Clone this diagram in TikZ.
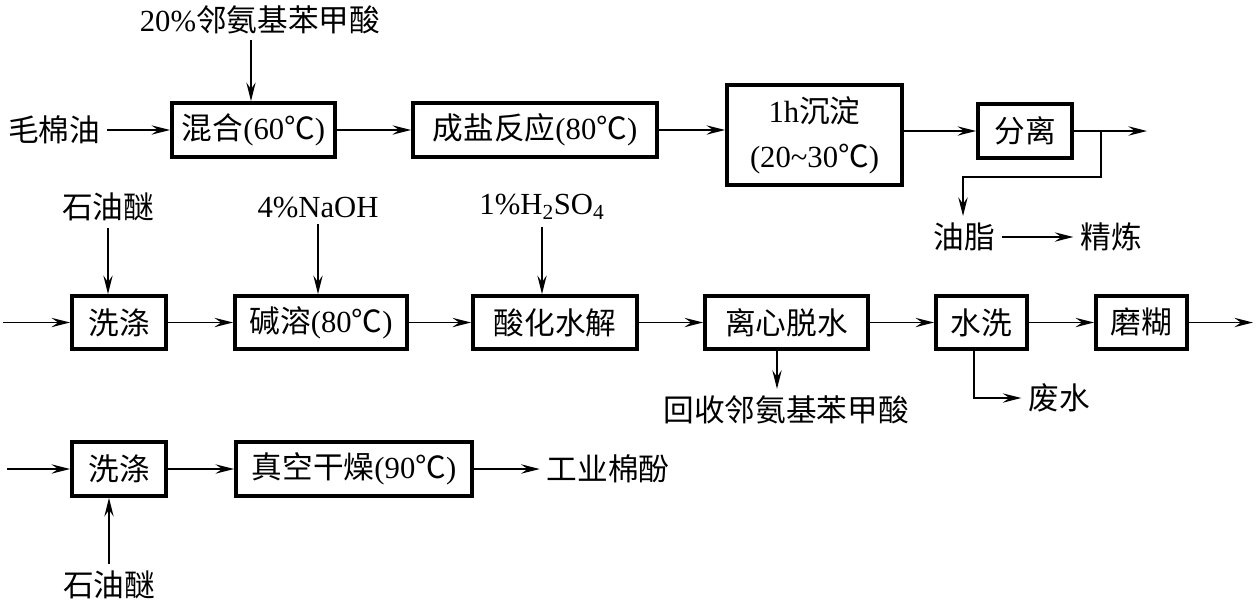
\documentclass[tikz,border=0pt]{standalone}
\usepackage{fontspec}
\setmainfont{Liberation Serif}
\newfontfamily\cjk{Noto Sans CJK SC}
\newcommand{\zh}[1]{{\cjk #1}}
\usetikzlibrary{arrows.meta}
\begin{document}
\begin{tikzpicture}[x=0.75pt,y=-0.75pt,
  font=\fontsize{23pt}{27pt}\selectfont,
  box/.style={draw, line width=2.8pt, inner sep=0pt, align=center},
  lbl/.style={inner sep=5pt, align=center},
  arr/.style={line width=1.4pt, -{Stealth[length=14pt,width=7pt,inset=5pt]}},
  ln/.style={line width=1.4pt}]
\useasboundingbox (0,0) rectangle (1256,601);

% ---- row 1 ----
\node[box, minimum width=122.25pt, minimum height=40.5pt] (B1) at (253.5,130) {\zh{混合}(60\zh{℃})};
\node[box, minimum width=183pt, minimum height=40.5pt] (B2) at (535,130) {\zh{成盐反应}(80\zh{℃})};
\node[box, minimum width=131.25pt, minimum height=75pt] (B3) at (814.5,135) {1h\zh{沉淀}\\[7pt](20\textasciitilde30\zh{℃})};
\node[box, minimum width=70.5pt, minimum height=40.5pt] (B4) at (1025,131) {\zh{分离}};

\node[lbl] (T1) at (260,20) {20\%\zh{邻氨基苯甲酸}};
\node[lbl] (M) at (54,130) {\zh{毛棉油}};
\node[lbl] (Y) at (964,237) {\zh{油脂}};
\node[lbl] (J) at (1111,237) {\zh{精炼}};

\coordinate (a1) at (251,40);
\draw[arr] (a1) -- (a1 |- B1.north);
\draw[arr] (M.east) -- (B1.west);
\draw[arr] (B1.east) -- (B2.west);
\draw[arr] (B2.east) -- (B2.east -| B3.west);
\draw[arr] (B3.east |- B4.west) -- (B4.west);
\coordinate (o1) at (1147,131);
\draw[arr] (B4.east) -- (o1);
\coordinate (br) at (1101,131);
\coordinate (bt) at (963,177);
\draw[arr] (br) |- (bt) -- (bt |- Y.north);
\draw[arr] (Y.east) -- (J.west);

% ---- row 2 ----
\node[box, minimum width=70.5pt, minimum height=39.75pt] (C1) at (119,322.5) {\zh{洗涤}};
\node[box, minimum width=129pt, minimum height=39.75pt] (C2) at (321,322.5) {\zh{碱溶}(80\zh{℃})};
\node[box, minimum width=123pt, minimum height=39.75pt] (C3) at (555,322.5) {\zh{酸化水解}};
\node[box, minimum width=122.25pt, minimum height=39.75pt] (C4) at (786.5,322.5) {\zh{离心脱水}};
\node[box, minimum width=68.25pt, minimum height=39.75pt] (C5) at (981.5,322.5) {\zh{水洗}};
\node[box, minimum width=68.25pt, minimum height=39.75pt] (C6) at (1141.5,322.5) {\zh{磨糊}};

\node[lbl] (S1) at (108,207) {\zh{石油醚}};
\node[lbl] (N) at (318,207) {4\%NaOH};
\node[lbl] (H2) at (542,207) {1\%H\textsubscript{2}SO\textsubscript{4}};
\node[lbl] (H) at (786,410) {\zh{回收邻氨基苯甲酸}};
\node[lbl] (F) at (1059,398) {\zh{废水}};

\coordinate (i2) at (3,322.5);
\draw[arr] (i2) -- (C1.west);
\draw[arr] (S1.south) -- (S1.south |- C1.north);
\draw[arr] (N.south) -- (N.south |- C2.north);
\draw[arr] (H2.south) -- (H2.south |- C3.north);
\draw[arr] (C1.east) -- (C2.west);
\draw[arr] (C2.east) -- (C3.west);
\draw[arr] (C3.east) -- (C4.west);
\draw[arr] (C4.east) -- (C5.west);
\draw[arr] (C5.east) -- (C6.west);
\coordinate (o2) at (1253,322.5);
\draw[arr] (C6.east) -- (o2);
\coordinate (c4d) at (777,322.5);
\draw[arr] (c4d |- C4.south) -- (c4d |- H.north);
\coordinate (c5d) at (974,322.5);
\draw[arr] (c5d |- C5.south) |- (F.west);

% ---- row 3 ----
\node[box, minimum width=70.5pt, minimum height=40.5pt] (D1) at (119,469) {\zh{洗涤}};
\node[box, minimum width=177pt, minimum height=40.5pt] (D2) at (354,469) {\zh{真空干燥}(90\zh{℃})};
\node[lbl] (S2) at (109,585) {\zh{石油醚}};
\node[lbl] (G) at (608,469) {\zh{工业棉酚}};

\coordinate (i3) at (7,469);
\draw[arr] (i3) -- (D1.west);
\draw[arr] (S2.north) -- (S2.north |- D1.south);
\draw[arr] (D1.east) -- (D2.west);
\draw[arr] (D2.east) -- (G.west);
\end{tikzpicture}
\end{document}
